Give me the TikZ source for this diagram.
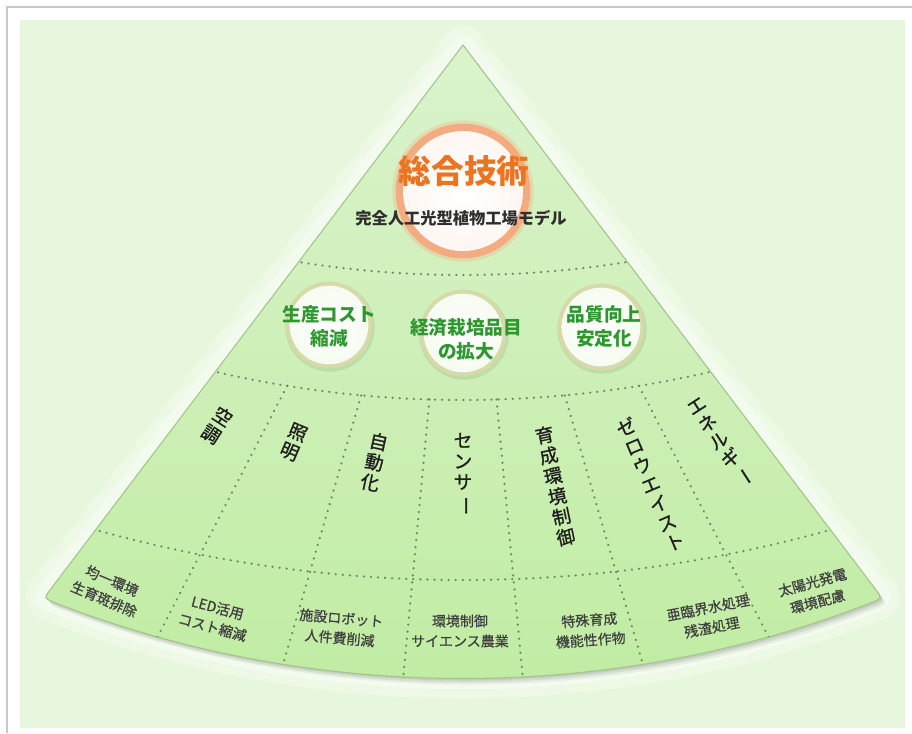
\documentclass[tikz,border=0pt]{standalone}
\usepackage{fontspec}
\setmainfont{Noto Sans CJK JP}
\newfontfamily\jpmed[FakeBold=1]{Noto Sans CJK JP}
\newfontfamily\jpsub[FakeBold=0.6]{Noto Sans CJK JP}
\usepackage{graphicx}
\usetikzlibrary{calc}
\definecolor{bggreen}{HTML}{E7F7DD}
\definecolor{fantop}{HTML}{DBF3CC}
\definecolor{fanbot}{HTML}{C0ECA2}
\definecolor{fanedge}{HTML}{A3C48A}
\definecolor{dotc}{HTML}{6A8A62}
\definecolor{ringc}{HTML}{F5AB80}
\definecolor{orangetxt}{HTML}{EC7420}
\definecolor{greentxt}{HTML}{2E982F}
\definecolor{khaki}{HTML}{D6D9A8}
\definecolor{coltext}{HTML}{1E1E1E}
\definecolor{subtext}{HTML}{3E3E3E}
\definecolor{framegray}{HTML}{C8C8C8}
\newcommand\vbar{\rotatebox[origin=c]{-90}{ー}}
\tikzset{
  fanp/.style={insert path={(463,45) -- (50,590) .. controls (44,598) .. (53,602)
     .. controls (313,704) and (613,704) .. (873,602) .. controls (882,598) .. (876,590) -- cycle}},
  dotline/.style={draw=dotc, line width=1.8pt, dash pattern=on 0.1pt off 5.2pt, line cap=round},
  coltitle/.style={inner sep=0pt, align=center, text=coltext, anchor=north,
     font=\jpmed\fontsize{14pt}{15.6pt}\selectfont},
  subtxt/.style={inner sep=0pt, align=center, text=subtext,
     font=\jpsub\fontsize{10.5pt}{15pt}\selectfont},
  goaltxt/.style={inner sep=0pt, align=center, text=greentxt,
     font=\bfseries\fontsize{14pt}{18pt}\selectfont},
  titletxt/.style={inner sep=0pt, text=orangetxt, font=\bfseries\fontsize{24.5pt}{28pt}\selectfont},
}
\begin{document}
\begin{tikzpicture}[x=0.75pt, y=-0.75pt]
\useasboundingbox (0,0) rectangle (912,733);
% frame and background
\fill[white] (0,0) rectangle (912,733);
\draw[framegray, line width=1pt] (7,733) -- (7,7) -- (912,7);
\fill[bggreen] (20,20) rectangle (905,728);
% glow and shadow of the fan
\draw[white, opacity=.25, line width=30pt, line join=round, fanp];
\draw[white, opacity=.35, line width=16pt, line join=round, fanp];
\fill[black, opacity=.05, shift={(5,6)}, fanp];
\fill[black, opacity=.07, shift={(3,4)}, fanp];
\fill[black, opacity=.08, shift={(2,2)}, fanp];
% fan body
\shade[top color=fantop, bottom color=fanbot, fanp];
\draw[fanedge, line width=0.8pt, fanp];
\coordinate (apex) at (463,45);
% dotted arcs and dividers
\begin{scope}
  \clip[fanp];
  \draw[dotline] (463,-755) circle[radius=772.5pt];
  \draw[dotline] (463,-690) circle[radius=817.5pt];
  \draw[dotline] (463,-780) circle[radius=1020pt];
  \foreach \t/\s in {27.3/383.5, 16.2/365, 5.4/356}{
    \draw[dotline] ($(apex)+({90-\t}:\s)$) -- ($(apex)+({90-\t}:760)$);
    \draw[dotline] ($(apex)+({90+\t}:\s)$) -- ($(apex)+({90+\t}:760)$);
  }
\end{scope}
% top circle
\fill[ringc, opacity=.3] (463,191) circle[radius=53pt];
\fill[ringc] (463,191) circle[radius=50.5pt];
\shade[inner color=white, outer color=white!90!ringc] (463,191) circle[radius=45pt];
\node[titletxt] (title) at (464,171) {総合技術};
\node[inner sep=0pt, text=black!82, font=\bfseries\fontsize{12.2pt}{14pt}\selectfont] (sub) at (461,218) {完全人工光型植物工場モデル};
% goal circles
\foreach \cx/\cy in {329/325, 463/333, 601/327}{
  \fill[black, opacity=.08] (\cx+1,\cy+2) circle[radius=33.5pt];
  \fill[khaki] (\cx,\cy) circle[radius=32.5pt];
  \shade[inner color=white, outer color=white!85!fanbot] (\cx,\cy) circle[radius=29.5pt];
}
\node[goaltxt] (goalA) at (329,326) {生産コスト\\縮減};
\node[goaltxt] (goalB) at (466,339) {経済栽培品目\\の拡大};
\node[goaltxt] (goalC) at (604,326) {品質向上\\安定化};
% column titles
\node[coltitle, rotate=-32.9] (c1) at ($(apex)+({90+32.9}:433.7)$) {空\\調};
\node[coltitle, rotate=-23.1] (c2) at ($(apex)+({90+23.1}:412.7)$) {照\\明};
\node[coltitle, rotate=-12.0] (c3) at ($(apex)+({90+12.0}:396.7)$) {自\\動\\化};
\node[coltitle, rotate=0]     (c4) at ($(apex)+(90:387.7)$) {セ\\ン\\サ\\\vbar};
\node[coltitle, rotate=11.8]  (c5) at ($(apex)+({90-11.8}:389.7)$) {育\\成\\環\\境\\制\\御};
\node[coltitle, rotate=23.1]  (c6) at ($(apex)+({90-23.1}:406.7)$) {ゼ\\ロ\\ウ\\エ\\イ\\ス\\ト};
\node[coltitle, rotate=32.9]  (c7) at ($(apex)+({90-32.9}:423.7)$) {エ\\ネ\\ル\\ギ\\\vbar};
% bottom row
\node[subtxt, rotate=-23] (b1) at (108,590) {均一環境\\生育斑排除};
\node[subtxt, rotate=-15] (b2) at (215,617.5) {LED活用\\コスト縮減};
\node[subtxt, rotate=-5]  (b3) at (340.5,628) {施設ロボット\\人件費削減};
\node[subtxt]             (b4) at (460,631) {環境制御\\サイエンス農業};
\node[subtxt, rotate=4]   (b5) at (590,630) {特殊育成\\機能性作物};
\node[subtxt, rotate=11]  (b6) at (710,617.5) {亜臨界水処理\\残渣処理};
\node[subtxt, rotate=15]  (b7) at (815,592) {太陽光発電\\環境配慮};
\end{tikzpicture}
\end{document}
